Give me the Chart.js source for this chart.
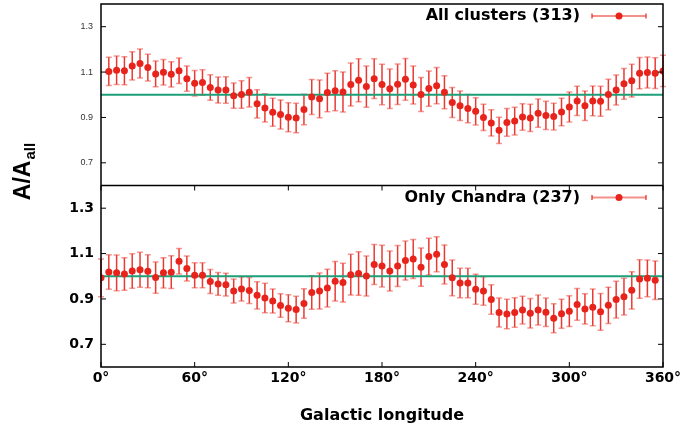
<!DOCTYPE html>
<html>
<head>
<meta charset="utf-8">
<script src="https://cdn.jsdelivr.net/npm/chart.js@4"></script>
<style>
  body { margin: 0; background: #fff; }
  canvas { display: block; }
</style>
</head>
<body>
<canvas id="chart" width="683" height="430"></canvas>
<script>
// Data
const lonAll = [5,10,15,20,25,30,35,40,45,50,55,60,65,70,75,80,85,90,95,100,105,110,115,120,
  125,130,135,140,145,150,155,160,165,170,175,180,185,190,195,200,205,210,215,220,225,230,235,240,
  245,250,255,260,265,270,275,280,285,290,295,300,305,310,315,320,325,330,335,340,345,350,355,360];
const ratioAll = [1.103,1.108,1.106,1.127,1.138,1.120,1.092,1.099,1.090,1.106,1.071,1.051,1.054,1.032,1.021,1.021,0.996,1.001,1.011,0.960,0.942,0.923,0.913,0.901,
  0.897,0.935,0.990,0.982,1.010,1.018,1.012,1.045,1.064,1.036,1.071,1.045,1.026,1.046,1.068,1.043,1.001,1.027,1.040,1.011,0.966,0.951,0.939,0.927,
  0.900,0.876,0.843,0.878,0.884,0.902,0.898,0.919,0.909,0.904,0.924,0.946,0.973,0.951,0.973,0.971,1.001,1.021,1.048,1.062,1.095,1.098,1.095,1.105];
const errAll = [0.062,0.063,0.062,0.062,0.064,0.059,0.057,0.056,0.056,0.056,0.056,0.056,0.056,0.056,0.057,0.058,0.056,0.061,0.065,0.062,0.062,0.062,0.064,0.064,
  0.065,0.067,0.077,0.083,0.085,0.088,0.088,0.095,0.095,0.091,0.088,0.089,0.087,0.089,0.092,0.084,0.075,0.078,0.080,0.073,0.066,0.065,0.062,0.060,
  0.058,0.058,0.058,0.061,0.061,0.058,0.060,0.062,0.062,0.059,0.061,0.066,0.064,0.065,0.066,0.066,0.067,0.066,0.068,0.072,0.069,0.068,0.068,0.069];

const lonChandra = [0,5,10,15,20,25,30,35,40,45,50,55,60,65,70,75,80,85,90,95,100,105,110,115,
  120,125,130,135,140,145,150,155,160,165,170,175,180,185,190,195,200,205,210,215,220,225,230,235,
  240,245,250,255,260,265,270,275,280,285,290,295,300,305,310,315,320,325,330,335,340,345,350,355];
const ratioChandra = [0.993,1.019,1.015,1.010,1.023,1.029,1.022,0.994,1.015,1.018,1.066,1.034,1.004,1.004,0.977,0.966,0.963,0.935,0.944,0.937,0.916,0.904,0.891,0.871,
  0.859,0.853,0.880,0.928,0.935,0.948,0.978,0.972,1.007,1.012,1.001,1.052,1.045,1.023,1.045,1.069,1.076,1.040,1.087,1.097,1.052,0.993,0.970,0.970,
  0.943,0.935,0.897,0.840,0.834,0.840,0.851,0.837,0.851,0.841,0.815,0.835,0.846,0.876,0.856,0.863,0.843,0.872,0.897,0.910,0.938,0.988,0.991,0.982];
const errChandra = [0.083,0.076,0.079,0.072,0.076,0.077,0.073,0.069,0.067,0.072,0.056,0.055,0.055,0.055,0.053,0.050,0.050,0.053,0.053,0.057,0.060,0.065,0.053,0.052,
  0.060,0.059,0.065,0.074,0.079,0.083,0.087,0.085,0.090,0.096,0.088,0.088,0.092,0.088,0.090,0.086,0.086,0.084,0.081,0.077,0.086,0.079,0.065,0.065,
  0.066,0.063,0.065,0.064,0.065,0.065,0.061,0.065,0.066,0.063,0.064,0.064,0.068,0.070,0.067,0.081,0.081,0.080,0.081,0.081,0.082,0.085,0.081,0.085];

const refLon = [0, 360];
const refRatio = [1, 1];

const xTicks = [0, 60, 120, 180, 240, 300, 360];
const yTicks = [0.7, 0.9, 1.1, 1.3];

const RED = '#e8231b';
const GREEN = '#1d9f78';

// Error bars under the points
const errorBars = {
  id: 'errorBars',
  beforeDatasetsDraw(chart) {
    const ctx = chart.ctx;
    chart.data.datasets.forEach((ds, i) => {
      if (!ds.errors) return;
      const meta = chart.getDatasetMeta(i);
      const ys = chart.scales[meta.yAxisID];
      meta.data.forEach((pt, j) => {
        const v = ds.data[j].y, e = ds.errors[j];
        const top = ys.getPixelForValue(v + e), bot = ys.getPixelForValue(v - e);
        ctx.save();
        ctx.strokeStyle = 'rgba(232,35,27,0.9)';
        ctx.lineWidth = 1.5;
        ctx.beginPath(); ctx.moveTo(pt.x, top); ctx.lineTo(pt.x, bot); ctx.stroke();
        ctx.strokeStyle = 'rgba(235,70,60,0.55)';
        ctx.beginPath();
        ctx.moveTo(pt.x - 3, top); ctx.lineTo(pt.x + 3, top);
        ctx.moveTo(pt.x - 3, bot); ctx.lineTo(pt.x + 3, bot);
        ctx.stroke();
        ctx.restore();
      });
    });
  }
};

// Frame, inner ticks, legends and y title
const frame = {
  id: 'frame',
  afterDraw(chart) {
    const ctx = chart.ctx, a = chart.chartArea;
    const x = chart.scales.x, yt = chart.scales.yTop, yb = chart.scales.yBot;
    ctx.save();
    ctx.strokeStyle = '#000';
    ctx.lineWidth = 1.5;
    ctx.strokeRect(a.left, a.top, a.right - a.left, a.bottom - a.top);
    ctx.beginPath(); ctx.moveTo(a.left, yb.top); ctx.lineTo(a.right, yb.top); ctx.stroke();
    ctx.lineWidth = 1;
    ctx.beginPath();
    [yt, yb].forEach(s => yTicks.forEach(v => {
      const py = s.getPixelForValue(v);
      ctx.moveTo(a.left, py); ctx.lineTo(a.left + 5, py);
      ctx.moveTo(a.right, py); ctx.lineTo(a.right - 5, py);
    }));
    xTicks.forEach(v => {
      const px = x.getPixelForValue(v);
      ctx.moveTo(px, a.bottom); ctx.lineTo(px, a.bottom - 5);
      ctx.moveTo(px, yb.top); ctx.lineTo(px, yb.top + 5);
    });
    ctx.stroke();

    // legends
    [[0, yt], [1, yb]].forEach(([i, s]) => {
      const ly = s.top + 12;
      ctx.font = 'bold 16px "DejaVu Sans"';
      ctx.fillStyle = '#000';
      ctx.textAlign = 'right';
      ctx.textBaseline = 'middle';
      ctx.fillText(chart.data.datasets[i].label, 580, ly);
      ctx.strokeStyle = 'rgba(235,70,60,0.6)';
      ctx.lineWidth = 2;
      ctx.beginPath(); ctx.moveTo(592, ly); ctx.lineTo(646, ly); ctx.stroke();
      ctx.strokeStyle = RED;
      ctx.lineWidth = 1.2;
      ctx.beginPath();
      ctx.moveTo(592, ly - 2.5); ctx.lineTo(592, ly + 2.5);
      ctx.moveTo(646, ly - 2.5); ctx.lineTo(646, ly + 2.5);
      ctx.stroke();
      ctx.fillStyle = RED;
      ctx.beginPath(); ctx.arc(619, ly, 3.5, 0, Math.PI * 2); ctx.fill();
    });

    // y title A/A_all
    ctx.translate(30, 172);
    ctx.rotate(-Math.PI / 2);
    ctx.fillStyle = '#000';
    ctx.textAlign = 'left';
    ctx.textBaseline = 'alphabetic';
    ctx.font = 'bold 23px "Liberation Sans"';
    const w1 = ctx.measureText('A/A').width;
    ctx.font = 'bold 15px "Liberation Sans"';
    const w2 = ctx.measureText('all').width;
    const x0 = -(w1 + w2) / 2;
    ctx.font = 'bold 23px "Liberation Sans"';
    ctx.fillText('A/A', x0, 0);
    ctx.font = 'bold 15px "Liberation Sans"';
    ctx.fillText('all', x0 + w1 + 1, 5);
    ctx.restore();
  }
};

const yCommon = (font, color, pad) => ({
  type: 'linear', min: 0.6, max: 1.4, position: 'left', stack: 'panels', stackWeight: 1,
  afterBuildTicks: s => { s.ticks = yTicks.map(v => ({ value: v })); },
  afterFit: s => { s.width = 101; s.paddingTop = 0; s.paddingBottom = 0; },
  ticks: { font, color, padding: pad, callback: v => v.toFixed(1) },
  grid: { display: false, drawTicks: false },
  border: { display: false }
});

new Chart(document.getElementById('chart').getContext('2d'), {
  type: 'scatter',
  data: {
    datasets: [
      { label: 'All clusters (313)', yAxisID: 'yTop', order: 1,
        data: lonAll.map((l, i) => ({ x: l, y: ratioAll[i] })), errors: errAll,
        backgroundColor: RED, borderColor: RED, pointRadius: 3.5, pointBorderWidth: 0 },
      { label: 'Only Chandra (237)', yAxisID: 'yBot', order: 1,
        data: lonChandra.map((l, i) => ({ x: l, y: ratioChandra[i] })), errors: errChandra,
        backgroundColor: RED, borderColor: RED, pointRadius: 3.5, pointBorderWidth: 0 },
      { type: 'line', label: 'ref top', yAxisID: 'yTop', order: 2,
        data: refLon.map((l, i) => ({ x: l, y: refRatio[i] })),
        borderColor: GREEN, borderWidth: 2, pointRadius: 0 },
      { type: 'line', label: 'ref bottom', yAxisID: 'yBot', order: 2,
        data: refLon.map((l, i) => ({ x: l, y: refRatio[i] })),
        borderColor: GREEN, borderWidth: 2, pointRadius: 0 }
    ]
  },
  options: {
    responsive: false,
    animation: false,
    layout: { padding: { top: 4, right: 20, left: 0, bottom: 0 } },
    plugins: { legend: { display: false }, tooltip: { enabled: false } },
    scales: {
      x: {
        type: 'linear', min: 0, max: 360,
        afterBuildTicks: s => { s.ticks = xTicks.map(v => ({ value: v })); },
        afterFit: s => { s.height = 63; s.paddingLeft = 0; s.paddingRight = 0; },
        ticks: { font: { family: 'DejaVu Sans', size: 14, weight: 'bold' }, color: '#000', padding: 3,
                 callback: v => v + '°' },
        grid: { display: false, drawTicks: false },
        border: { display: false },
        title: { display: true, text: 'Galactic longitude', color: '#000',
                 font: { family: 'DejaVu Sans', size: 16, weight: 'bold' }, padding: { top: 0, bottom: 5 } }
      },
      yBot: yCommon({ family: 'DejaVu Sans', size: 14, weight: 'bold' }, '#000', 7),
      yTop: yCommon({ family: 'Liberation Sans', size: 9 }, '#333', 8)
    }
  },
  plugins: [errorBars, frame]
});
</script>
</body>
</html>
